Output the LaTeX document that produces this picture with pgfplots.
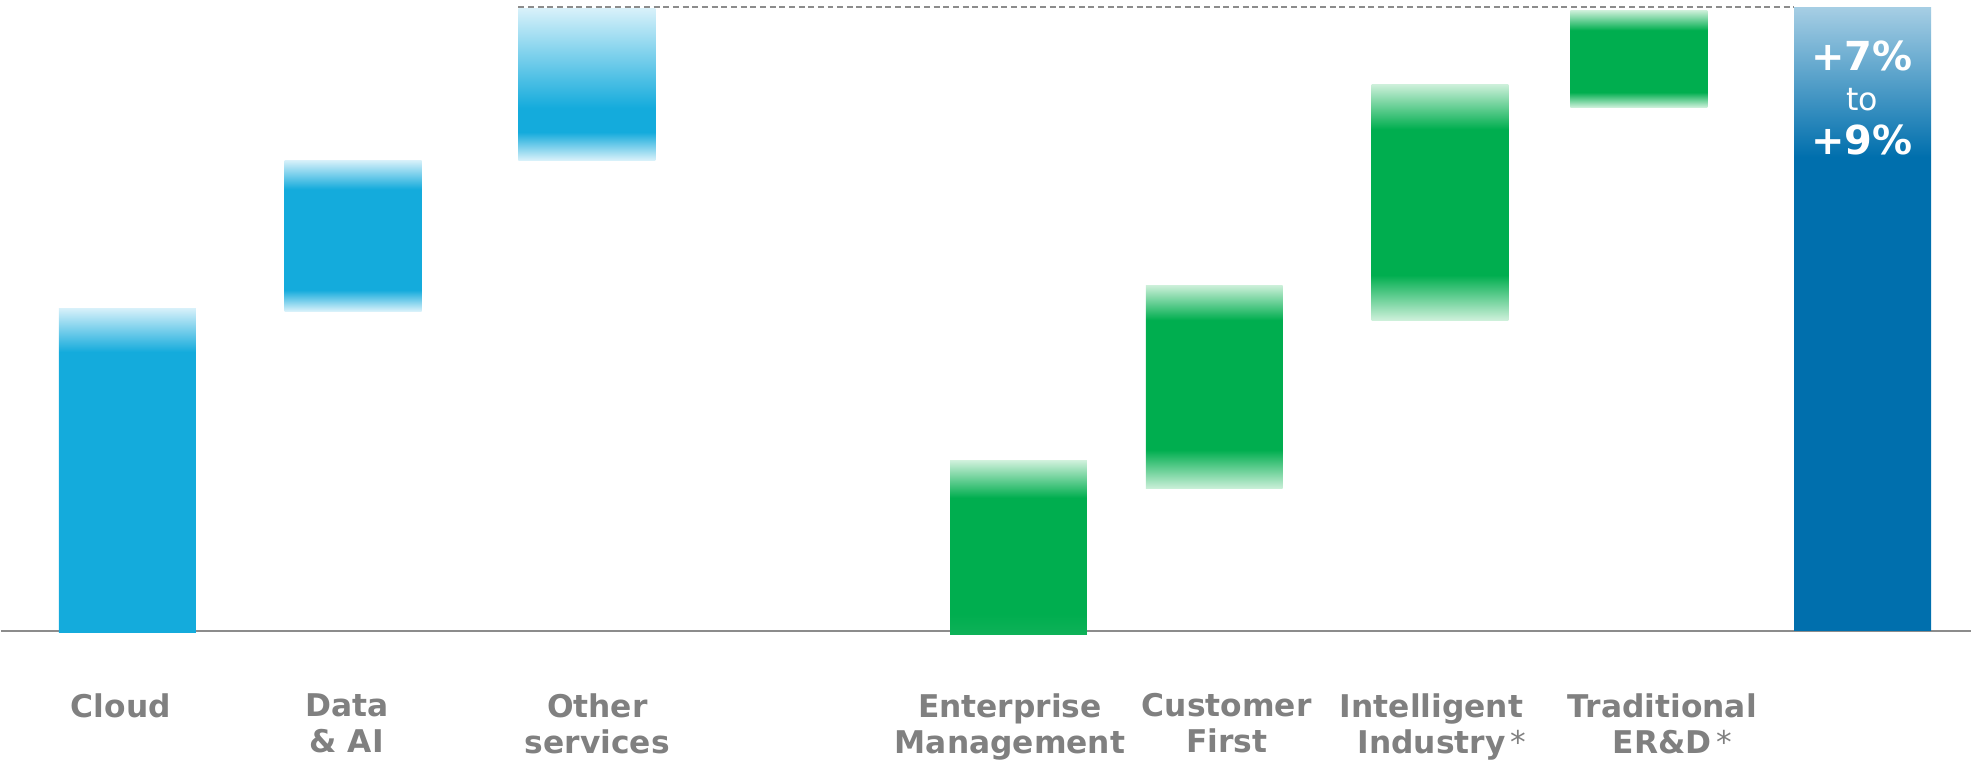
\documentclass[border=0pt]{standalone}
\usepackage{pgfplots}
\pgfplotsset{compat=1.18}
\usepackage{fontspec}
\setmainfont{DejaVu Sans}
\definecolor{cyanS}{RGB}{20,171,220}
\definecolor{cyanL}{RGB}{216,241,250}
\definecolor{greenS}{RGB}{0,174,79}
\definecolor{greenL}{RGB}{205,240,218}
\definecolor{greenB}{RGB}{14,177,88}
\definecolor{blueS}{RGB}{0,111,173}
\definecolor{blueL}{RGB}{166,206,228}
\definecolor{lbl}{RGB}{128,128,128}
\definecolor{basel}{RGB}{140,140,140}
% one vertical shading per bar: the bar fills 25bp..75bp of the shading
\pgfdeclareverticalshading{shCloud}{100bp}{color(0bp)=(cyanS); color(68.23bp)=(cyanS); color(75bp)=(cyanL); color(100bp)=(cyanL)}
\pgfdeclareverticalshading{shData}{100bp}{color(0bp)=(cyanL); color(25bp)=(cyanL); color(31.95bp)=(cyanS); color(65.40bp)=(cyanS); color(75bp)=(cyanL); color(100bp)=(cyanL)}
\pgfdeclareverticalshading{shOther}{100bp}{color(0bp)=(cyanL); color(25bp)=(cyanL); color(34.21bp)=(cyanS); color(42.11bp)=(cyanS); color(75bp)=(cyanL); color(100bp)=(cyanL)}
\pgfdeclareverticalshading{shEnt}{100bp}{color(0bp)=(greenB); color(25bp)=(greenB); color(31bp)=(greenS); color(64.37bp)=(greenS); color(75bp)=(greenL); color(100bp)=(greenL)}
\pgfdeclareverticalshading{shCust}{100bp}{color(0bp)=(greenL); color(25bp)=(greenL); color(34.56bp)=(greenS); color(66.42bp)=(greenS); color(75bp)=(greenL); color(100bp)=(greenL)}
\pgfdeclareverticalshading{shInt}{100bp}{color(0bp)=(greenL); color(25bp)=(greenL); color(34.53bp)=(greenS); color(65.47bp)=(greenS); color(75bp)=(greenL); color(100bp)=(greenL)}
\pgfdeclareverticalshading{shTrad}{100bp}{color(0bp)=(greenL); color(25bp)=(greenL); color(32.73bp)=(greenS); color(64.69bp)=(greenS); color(75bp)=(greenL); color(100bp)=(greenL)}
\pgfdeclareverticalshading{shTot}{100bp}{color(0bp)=(blueS); color(62.98bp)=(blueS); color(75bp)=(blueL); color(100bp)=(blueL)}
\begin{document}
\begin{tikzpicture}
\begin{axis}[
  width=591.6pt, height=229.2pt, scale only axis,
  xmin=0, xmax=1972, ymin=-133, ymax=631,
  axis line style={draw=none},
  ytick=\empty,
  major tick length=0pt,
  xtick={120,346,597,1010,1227,1432,1663},
  xticklabels={Cloud,{Data\\\& AI},{Other\\services},{Enterprise\\Management},{Customer\\First},{Intelligent\\Industry\rlap{\,\mdseries*}},{Traditional\\ER\&D\rlap{\,\mdseries*}}},
  xticklabel style={font=\fontsize{9.4}{10.8}\selectfont\bfseries, text=lbl, align=center, anchor=north, inner sep=0pt, yshift=21.3pt},
  clip=false,
]
% baseline and dashed reference line
\addplot[basel, line width=0.6pt] coordinates {(0,0) (1972,0)};
\addplot[basel, line width=0.6pt, dash pattern=on 1.8pt off 1.1pt] coordinates {(518,624) (1795,624)};

% bars: (left, bottom) to (right, top)
\addplot[draw=none, shading=shCloud] coordinates {(58,-2) (195,-2) (195,323) (58,323)} -- cycle;      % Cloud
\addplot[draw=none, shading=shData]  coordinates {(284,320) (421,320) (421,471) (284,471)} -- cycle;   % Data & AI
\addplot[draw=none, shading=shOther] coordinates {(518,471) (655,471) (655,623) (518,623)} -- cycle;   % Other services
\addplot[draw=none, shading=shEnt]   coordinates {(950,-4) (1087,-4) (1087,170) (950,170)} -- cycle;   % Enterprise Management
\addplot[draw=none, shading=shCust]  coordinates {(1146,142) (1283,142) (1283,346) (1146,346)} -- cycle; % Customer First
\addplot[draw=none, shading=shInt]   coordinates {(1372,311) (1509,311) (1509,547) (1372,547)} -- cycle; % Intelligent Industry
\addplot[draw=none, shading=shTrad]  coordinates {(1571,524) (1708,524) (1708,621) (1571,621)} -- cycle; % Traditional ER&D
\addplot[draw=none, shading=shTot]   coordinates {(1795,0) (1932,0) (1932,624) (1795,624)} -- cycle;   % Total

\node[anchor=base, text=white, inner sep=0pt, font=\fontsize{12}{14}\selectfont\bfseries] at (axis cs:1863,561) {+7\%};
\node[anchor=base, text=white, inner sep=0pt, font=\fontsize{9.5}{11}\selectfont] at (axis cs:1863,521) {to};
\node[anchor=base, text=white, inner sep=0pt, font=\fontsize{12}{14}\selectfont\bfseries] at (axis cs:1863,477) {+9\%};
\end{axis}
\end{tikzpicture}
\end{document}
